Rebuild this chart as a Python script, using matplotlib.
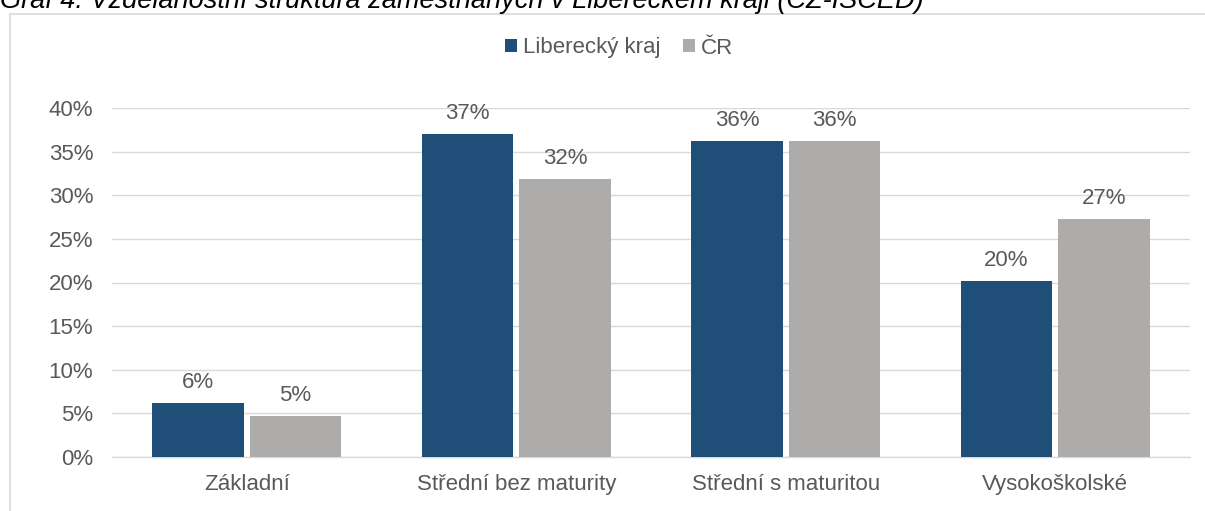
import matplotlib.pyplot as plt
import numpy as np
from matplotlib.patches import Rectangle

plt.rcParams['font.family'] = ['Liberation Sans', 'DejaVu Sans']

# data
categories = ['Základní', 'Střední bez maturity', 'Střední s maturitou', 'Vysokoškolské']
series_names = ['Liberecký kraj', 'ČR']
liberec = [6.2, 37.0, 36.2, 20.2]
cr = [4.7, 31.9, 36.2, 27.3]
yticks = [0, 5, 10, 15, 20, 25, 30, 35, 40]

col_lib = '#1f4e79'
col_cr = '#aeabab'
txt = '#595959'
grid = '#d9d9d9'
fs = 16

fig = plt.figure(figsize=(12.05, 5.11), dpi=100)

# outer chart frame (partly outside the image)
fig.patches.append(Rectangle((10 / 1205, -0.05), 1.1, (511 - 14) / 511 + 0.05,
                             transform=fig.transFigure, fill=False,
                             edgecolor=grid, linewidth=1.2))

fig.text(0.0, 1 - 8 / 511, 'Graf 4: Vzdělanostní struktura zaměstnaných v Libereckém kraji (CZ-ISCED)',
         fontsize=19.5, style='italic', color='black', ha='left', va='baseline')

ax = fig.add_axes([112 / 1205, 1 - 457 / 511, (1190 - 112) / 1205, (457 - 108) / 511])

x = np.arange(len(categories))
w = 0.338
gap = 0.012
b1 = ax.bar(x - w / 2 - gap, liberec, w, color=col_lib, label=series_names[0], zorder=3)
b2 = ax.bar(x + w / 2 + gap, cr, w, color=col_cr, label=series_names[1], zorder=3)

for bars, vals in ((b1, liberec), (b2, cr)):
    for r, v in zip(bars, vals):
        ax.text(r.get_x() + r.get_width() / 2, v + 1.72, f'{round(v):.0f}%',
                ha='center', va='baseline', fontsize=fs, color=txt)

ax.set_xlim(-0.5, 3.5)
ax.set_ylim(0, 40)
ax.set_yticks(yticks)
ax.set_yticklabels([f'{t}%' for t in yticks])
ax.set_xticks(x)
ax.set_xticklabels(categories)
ax.tick_params(axis='both', length=0, labelsize=fs, colors=txt)
ax.tick_params(axis='y', pad=13.5)
ax.tick_params(axis='x', pad=12.5)
ax.grid(axis='y', color=grid, linewidth=1, zorder=0)
for s in ['top', 'right', 'left']:
    ax.spines[s].set_visible(False)
ax.spines['bottom'].set_color(grid)
ax.spines['bottom'].set_linewidth(1)

fig.legend(handles=[b1, b2], loc='center', bbox_to_anchor=(619 / 1205, 1 - 48 / 511),
           ncol=2, frameon=False, fontsize=fs, labelcolor=txt,
           handlelength=0.55, handleheight=0.55, handletextpad=0.25, columnspacing=1.0)

fig.savefig('out.png', dpi=100)
